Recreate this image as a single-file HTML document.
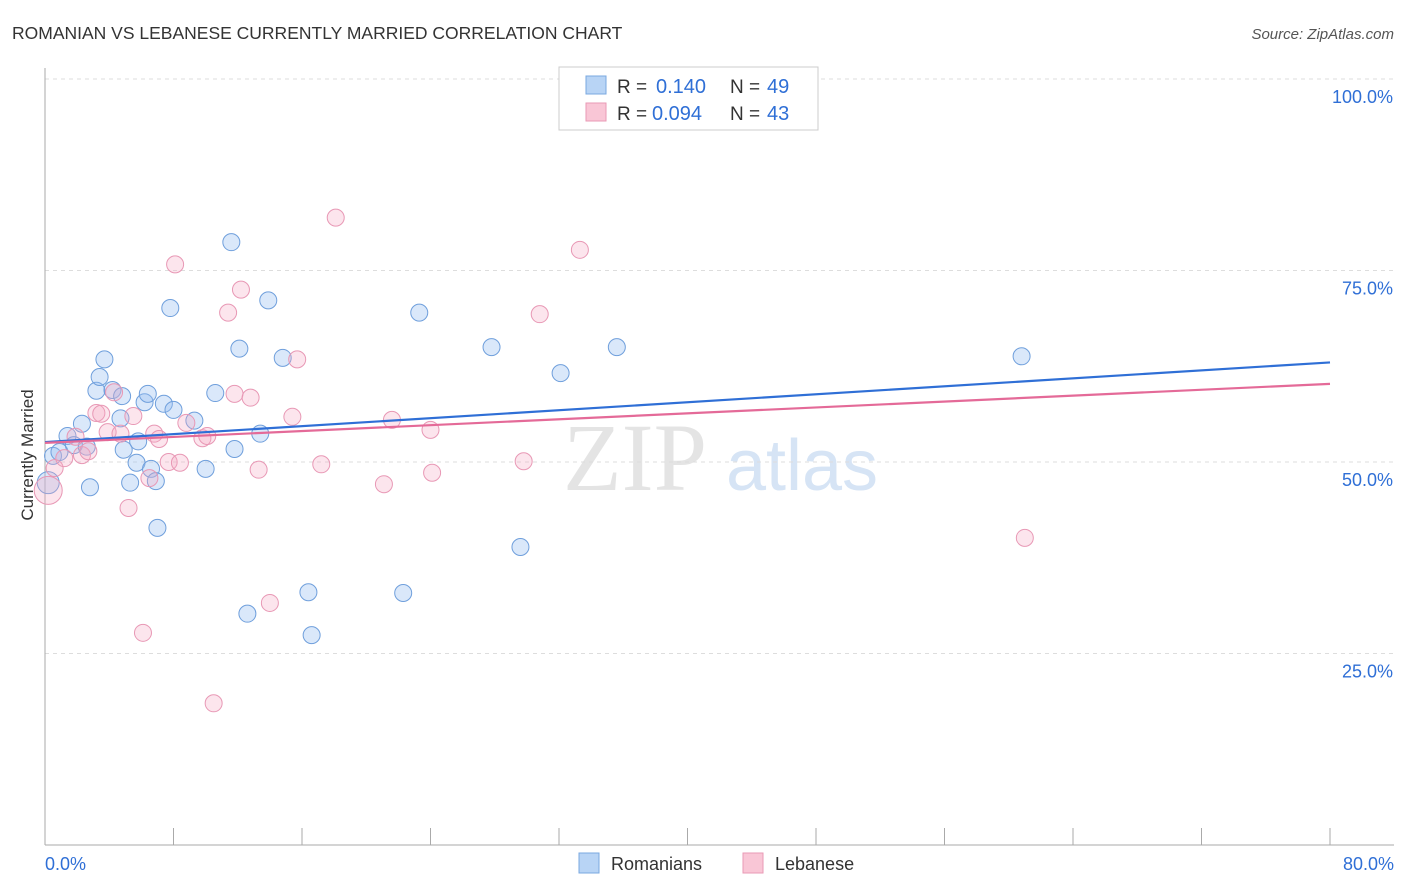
<!DOCTYPE html>
<html><head><meta charset="utf-8"><style>
body{margin:0;background:#fff;font-family:"Liberation Sans",sans-serif}
svg{display:block}
</style></head><body>
<svg width="1406" height="892" id="chart">
<text x="12" y="39" font-size="17.5" fill="#333">ROMANIAN VS LEBANESE CURRENTLY MARRIED CORRELATION CHART</text>
<text x="1394" y="39" font-size="15" fill="#555" font-style="italic" text-anchor="end">Source: ZipAtlas.com</text>
<text x="635" y="490" font-size="96" fill="#e4e4e4" font-family="Liberation Serif,serif" text-anchor="middle">ZIP</text>
<text x="802" y="490" font-size="72" fill="#d6e4f5" text-anchor="middle">atlas</text>
<text transform="translate(33,455) rotate(-90)" font-size="17" fill="#333" text-anchor="middle">Currently Married</text>
<g id="grid"></g><g id="pts"></g><g id="trend"></g>
<g>
<rect x="559" y="67" width="259" height="63" fill="#fff" stroke="#ccc"/>
<rect x="586" y="76" width="20" height="18" fill="#b8d4f5" stroke="#7aa8e0"/>
<rect x="586" y="103" width="20" height="18" fill="#f9c6d6" stroke="#e99ab5"/>
<text x="617" y="93" font-size="19" fill="#333">R =</text>
<text x="656" y="93" font-size="20" fill="#2f6fd6">0.140</text>
<text x="730" y="93" font-size="19" fill="#333">N =</text>
<text x="767" y="93" font-size="20" fill="#2f6fd6">49</text>
<text x="617" y="120" font-size="19" fill="#333">R =</text>
<text x="652" y="120" font-size="20" fill="#2f6fd6">0.094</text>
<text x="730" y="120" font-size="19" fill="#333">N =</text>
<text x="767" y="120" font-size="20" fill="#2f6fd6">43</text>
</g>
<g>
<rect x="579" y="853" width="20" height="20" fill="#b8d4f5" stroke="#7aa8e0"/>
<text x="611" y="870" font-size="18" fill="#333">Romanians</text>
<rect x="743" y="853" width="20" height="20" fill="#f9c6d6" stroke="#e99ab5"/>
<text x="775" y="870" font-size="18" fill="#333">Lebanese</text>
</g>
</svg>
<script>
const yTicks=[25,50,75,100];
const yTickLabels=["25.0%","50.0%","75.0%","100.0%"];
const xTicks=[0,8,16,24,32,40,48,56,64,72,80];
const romX=[0.2,0.5,0.9,1.4,1.8,2.3,2.6,2.8,3.2,3.4,3.7,4.2,4.7,4.8,4.9,5.3,5.7,5.8,6.2,6.4,6.6,6.9,7.0,7.4,7.8,8.0,9.3,10.0,10.6,11.6,11.8,12.1,12.6,13.4,13.9,14.8,16.4,16.6,22.3,23.3,27.8,29.6,32.1,35.6,60.8];
const romY=[47.3,50.8,51.3,53.4,52.2,55.0,52.0,46.7,59.3,61.1,63.4,59.4,55.7,58.6,51.6,47.3,49.9,52.7,57.8,58.9,49.1,47.5,41.4,57.6,70.1,56.8,55.4,49.1,59.0,78.7,51.7,64.8,30.2,53.7,71.1,63.6,33.0,27.4,32.9,69.5,65.0,38.9,61.6,65.0,63.8];
const lebX=[0.2,0.6,1.2,1.9,2.3,2.7,3.2,3.5,3.9,4.3,4.7,5.2,5.5,6.1,6.5,6.8,7.1,7.7,8.1,8.4,8.8,9.8,10.1,10.5,11.4,11.8,12.2,12.8,13.3,14.0,15.4,15.7,17.2,18.1,21.1,21.6,24.0,24.1,29.8,30.8,33.3,61.0];
const lebY=[46.3,49.2,50.5,53.3,50.9,51.4,56.4,56.3,53.9,59.1,53.7,44.0,56.0,27.7,47.9,53.7,53.0,50.0,75.8,49.9,55.1,53.1,53.4,18.5,69.5,58.9,72.5,58.4,49.0,31.6,55.9,63.4,49.7,81.9,47.1,55.5,54.2,48.6,50.1,69.3,77.7,40.1];
const romTrend=[52.6,63.0];
const lebTrend=[52.5,60.2];
const NS="http://www.w3.org/2000/svg";
const X=v=>45+v/80*1285, Y=v=>845-v*7.66;
function mk(t,a,p){const e=document.createElementNS(NS,t);for(const k in a)e.setAttribute(k,a[k]);p.appendChild(e);return e;}
const g=document.getElementById('grid');
yTicks.forEach((t,i)=>{
 const l=mk('line',{x1:45,x2:1394,y1:Y(t),y2:Y(t),stroke:'#ddd','stroke-dasharray':'4,4'},g);
 
 
 const tx=mk('text',{x:1393,y:Y(t)+24,'font-size':18,fill:'#2f6fd6','text-anchor':'end'},g);
 tx.textContent=yTickLabels[i];
 
 
});
mk('line',{x1:45,x2:45,y1:68,y2:845,stroke:'#aaa'},g);
mk('line',{x1:45,x2:1394,y1:845,y2:845,stroke:'#aaa'},g);
xTicks.forEach(t=>{const l=mk('line',{x1:X(t),x2:X(t),y1:828,y2:845,stroke:'#aaa'},g);
 
 });
let t0=mk('text',{x:45,y:870,'font-size':18,fill:'#2f6fd6'},g);t0.textContent='0.0%';


let t1=mk('text',{x:1394,y:870,'font-size':18,fill:'#2f6fd6','text-anchor':'end'},g);t1.textContent='80.0%';


const p=document.getElementById('pts');
romX.forEach((x,i)=>{const c=mk('circle',{cx:X(x),cy:Y(romY[i]),r:i==0?11:8.5,fill:'rgba(150,190,240,0.35)',stroke:'#6f9fdc','stroke-width':1},p);
 
 });
lebX.forEach((x,i)=>{const c=mk('circle',{cx:X(x),cy:Y(lebY[i]),r:i==0?14:8.5,fill:'rgba(245,170,195,0.3)',stroke:'#e898b5','stroke-width':1},p);
 
 });
const tr=document.getElementById('trend');
let a=mk('line',{x1:X(0),x2:X(80),y1:Y(romTrend[0]),y2:Y(romTrend[1]),stroke:'#2f6fd6','stroke-width':2.2},tr);


let b=mk('line',{x1:X(0),x2:X(80),y1:Y(lebTrend[0]),y2:Y(lebTrend[1]),stroke:'#e46a98','stroke-width':2.2},tr);


</script>
</body></html>
